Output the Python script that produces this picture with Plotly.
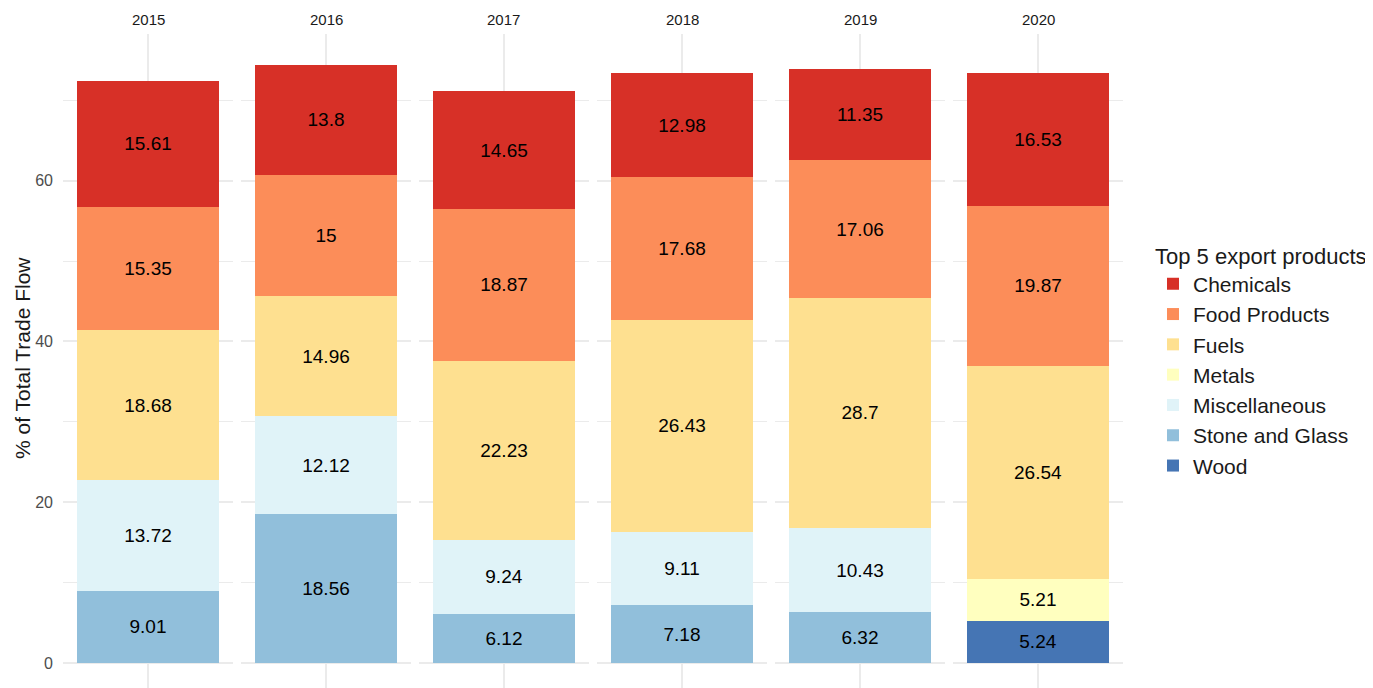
import plotly.graph_objects as go

years = ["2015", "2016", "2017", "2018", "2019", "2020"]
# products in stacking order (bottom to top)
products = ["Wood", "Stone and Glass", "Miscellaneous", "Metals", "Fuels", "Food Products", "Chemicals"]
wood = [None, None, None, None, None, 5.24]
stone_glass = [9.01, 18.56, 6.12, 7.18, 6.32, None]
miscellaneous = [13.72, 12.12, 9.24, 9.11, 10.43, None]
metals = [None, None, None, None, None, 5.21]
fuels = [18.68, 14.96, 22.23, 26.43, 28.7, 26.54]
food_products = [15.35, 15, 18.87, 17.68, 17.06, 19.87]
chemicals = [15.61, 13.8, 14.65, 12.98, 11.35, 16.53]
values = [wood, stone_glass, miscellaneous, metals, fuels, food_products, chemicals]
colors = ["#4575b4", "#91bfdb", "#e0f3f8", "#ffffbf", "#fee090", "#fc8d59", "#d73027"]
y_ticks = [0, 20, 40, 60]

W, H = 1373, 688
OFF = 8  # page body margin
FONT = "Liberation Sans"


def px(sx):
    return (sx - OFF) / W


def py(sy):
    return 1 - (sy - OFF) / H


fig = go.Figure()

for p_idx, (name, vals, col) in enumerate(zip(products, values, colors)):
    shown = False
    for i, v in enumerate(vals):
        if v is None:
            continue
        xa = "x" if i == 0 else f"x{i+1}"
        fig.add_trace(go.Bar(
            x=[0], y=[v], width=0.83, name=name,
            xaxis=xa, yaxis="y",
            marker=dict(color=col, line=dict(width=0)),
            text=[f"{v:g}"], textposition="inside", insidetextanchor="middle",
            textangle=0, constraintext="none",
            textfont=dict(size=19, color="black", family=FONT),
            legendgroup=name, showlegend=not shown,
            legendrank=1000 - p_idx,
        ))
        shown = True

layout = dict(
    width=W, height=H, autosize=False,
    margin=dict(l=0, r=0, t=0, b=0),
    barmode="stack",
    plot_bgcolor="white", paper_bgcolor="white",
    font=dict(family=FONT, color="#1a1a1a"),
    showlegend=True,
    legend=dict(
        title=dict(text="Top 5 export products", font=dict(size=22, color="#1a1a1a")),
        font=dict(size=21, color="#1a1a1a"),
        x=1145 / W, xanchor="left", y=1 - 227 / H, yanchor="top",
        bgcolor="rgba(0,0,0,0)", traceorder="normal",
    ),
)

# screen: top of panel at 34, zero at 663, 8.04 px per unit
top_fig = 34 - OFF
zero_fig = 663 - OFF
scale = 8.04
y_lo = -(H - zero_fig) / scale
y_hi = y_lo + (H - top_fig) / scale
layout["yaxis"] = dict(
    domain=[0, 1 - top_fig / H], range=[y_lo, y_hi], anchor="x",
    tickvals=y_ticks, showgrid=True, gridcolor="#ebebeb", gridwidth=2,
    zeroline=False, showline=False, ticks="",
    tickfont=dict(size=16, color="#4d4d4d"), ticklabelstandoff=9,
    minor=dict(dtick=10, tick0=0, showgrid=True, gridcolor="#ebebeb", gridwidth=1),
)

annotations = []
for i, yr in enumerate(years):
    x0 = px(63 + 178 * i)
    x1 = px(233 + 178 * i)
    key = "xaxis" if i == 0 else f"xaxis{i+1}"
    layout[key] = dict(
        domain=[x0, x1], range=[-0.5, 0.5], anchor="y",
        tickvals=[0], showticklabels=False, showgrid=True,
        gridcolor="#ebebeb", gridwidth=2, zeroline=False, showline=False, ticks="",
        fixedrange=True,
    )
    annotations.append(dict(
        text=yr, xref="paper", yref="paper", x=(x0 + x1) / 2, y=py(19),
        xanchor="center", yanchor="middle", showarrow=False,
        font=dict(size=15, color="#1a1a1a", family=FONT),
    ))

annotations.append(dict(
    text="% of Total Trade Flow", xref="paper", yref="paper",
    x=px(22), y=py(358), xanchor="center", yanchor="middle",
    textangle=-90, showarrow=False,
    font=dict(size=21, color="#1a1a1a", family=FONT),
))
layout["annotations"] = annotations

fig.update_layout(**layout)
fig.write_html("out.html")
